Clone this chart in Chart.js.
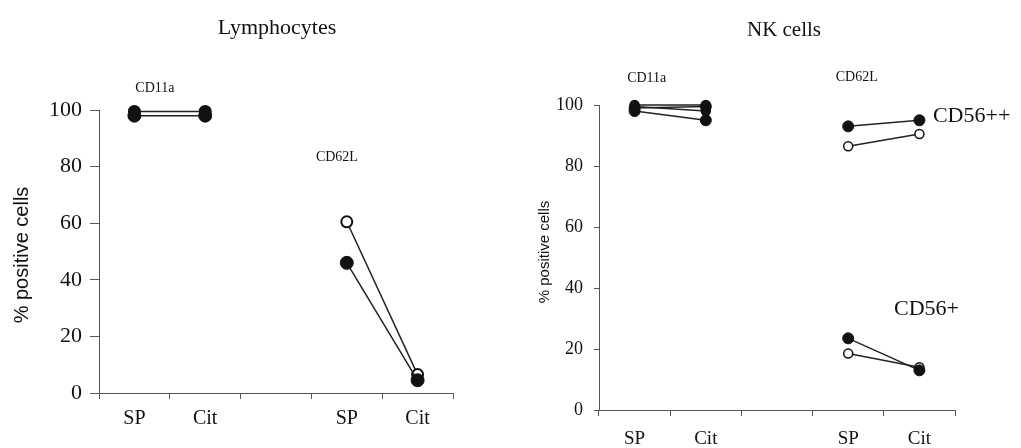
<!DOCTYPE html>
<html>
<head>
<meta charset="utf-8">
<script src="https://cdn.jsdelivr.net/npm/chart.js@4.4.0/dist/chart.umd.min.js"></script>
<style>
html, body { margin: 0; padding: 0; background: #fff; }
#wrap { position: relative; width: 1021px; height: 448px; overflow: hidden; }
#lymph { position: absolute; left: 0; top: 0; }
#nk { position: absolute; left: 500px; top: 0; }
</style>
</head>
<body>
<div id="wrap">
  <canvas id="lymph" width="490" height="448"></canvas>
  <canvas id="nk" width="521" height="448"></canvas>
</div>
<script>
// categorias: CD11a (SP, Cit), hueco, CD62L (SP, Cit)
const categorias = ['SP', 'Cit', '', 'SP', 'Cit'];
const ticksY = [0, 20, 40, 60, 80, 100];

// Lymphocytes
const linfoLleno   = [98, 98, null, 46, 4.5];
const linfoAbierto = [99.5, 99.5, null, 60.5, 6.5];

// NK cells, CD56++ y CD56+
const nkFuerteLleno   = [99, 99.5, null, 93, 95];
const nkFuerteAbierto = [100, 100, null, 86.5, 90.5];
const nkDebilLleno    = [98, 95, null, 23.5, 13];
const nkDebilAbierto  = [99.5, 98, null, 18.5, 14];

const serif = 'Liberation Serif';
const sans = 'Liberation Sans';
const tinta = '#111';

// textos sobre el canvas: titulo, titulo del eje y etiquetas junto a los puntos
const textos = {
    id: 'textos',
    afterDraw(chart, args, opts){
        const ctx = chart.ctx;
        const x = chart.scales.x;
        const y = chart.scales.y;
        const paso = x.getPixelForValue(1) - x.getPixelForValue(0);
        ctx.save();
        ctx.fillStyle = tinta;
        ctx.textBaseline = 'middle';

        ctx.textAlign = 'center';
        ctx.font = opts.titulo.font;
        ctx.fillText(opts.titulo.texto, opts.titulo.x, opts.titulo.y);

        ctx.save();
        ctx.translate(opts.ejeY.x, opts.ejeY.y);
        ctx.rotate(-Math.PI / 2);
        ctx.font = opts.ejeY.font;
        ctx.fillText('% positive cells', 0, 0);
        ctx.restore();

        opts.etiquetas.forEach(e => {
            ctx.font = e.font;
            ctx.textAlign = e.align || 'center';
            let px = x.getPixelForValue(0) + e.pos * paso;
            let py = y.getPixelForValue(e.valor);
            ctx.fillText(e.texto, px, py);
        });
        ctx.restore();
    }
};

// los puntos de CD11a se ven rellenos en las dos series
function serie(datos, abierto, radio, borde){
    return {
        data: datos,
        borderColor: '#222',
        borderWidth: 1.5,
        pointRadius: radio,
        pointBorderWidth: abierto ? borde : 1,
        pointBorderColor: '#111',
        pointBackgroundColor: abierto
            ? (c => c.dataIndex < 2 ? '#111' : '#fff')
            : '#111',
        spanGaps: false,
        clip: false
    };
}

function ejes(fy, largoY, sepY, anchoY, fx, altoX, sepX){
    return {
        x: {
            type: 'category',
            offset: true,
            afterFit: s => { s.height = altoX; },
            grid: { offset: true, drawOnChartArea: false, tickLength: 6, color: '#555' },
            border: { display: true, color: '#555', width: 1 },
            ticks: { font: fx, color: tinta, padding: sepX, autoSkip: false, maxRotation: 0 }
        },
        y: {
            min: 0,
            max: 100,
            afterBuildTicks: s => { s.ticks = ticksY.map(v => ({ value: v })); },
            afterFit: s => { s.width = anchoY; },
            grid: { drawOnChartArea: false, tickLength: largoY, color: '#555' },
            border: { display: true, color: '#555', width: 1 },
            ticks: { font: fy, color: tinta, padding: sepY }
        }
    };
}

let G1 = new Chart(document.getElementById('lymph').getContext('2d'), {
    type: 'line',
    data: {
        labels: categorias,
        datasets: [
            serie(linfoLleno, false, 6.5),
            serie(linfoAbierto, true, 5.5, 2)
        ]
    },
    options: {
        responsive: false,
        animation: false,
        devicePixelRatio: 1,
        layout: { padding: { top: 110, right: 37, left: 0, bottom: 0 } },
        scales: ejes({ family: serif, size: 22 }, 9, 8, 99, { family: serif, size: 20 }, 55, 8),
        plugins: {
            legend: { display: false },
            tooltip: { enabled: false },
            textos: {
                titulo: { texto: 'Lymphocytes', x: 277, y: 28, font: '22px "' + serif + '"' },
                ejeY: { x: 22, y: 255, font: '20px "' + sans + '"' },
                etiquetas: [
                    { texto: 'CD11a', pos: 0.29, valor: 107.8, font: '14px "' + serif + '"' },
                    { texto: 'CD62L', pos: 2.86, valor: 83.4, font: '14px "' + serif + '"' }
                ]
            }
        }
    },
    plugins: [textos]
});

let G2 = new Chart(document.getElementById('nk').getContext('2d'), {
    type: 'line',
    data: {
        labels: categorias,
        datasets: [
            serie(nkFuerteLleno, false, 5.5),
            serie(nkDebilLleno, false, 5.5),
            serie(nkFuerteAbierto, true, 4.5, 1.5),
            serie(nkDebilAbierto, true, 4.5, 1.5)
        ]
    },
    options: {
        responsive: false,
        animation: false,
        devicePixelRatio: 1,
        layout: { padding: { top: 105, right: 66, left: 0, bottom: 0 } },
        scales: ejes({ family: serif, size: 18 }, 5, 11, 99, { family: serif, size: 19 }, 38, 12),
        plugins: {
            legend: { display: false },
            tooltip: { enabled: false },
            textos: {
                titulo: { texto: 'NK cells', x: 284, y: 30, font: '21px "' + serif + '"' },
                ejeY: { x: 45, y: 252, font: '15px "' + sans + '"' },
                etiquetas: [
                    { texto: 'CD11a', pos: 0.17, valor: 108.9, font: '14px "' + serif + '"' },
                    { texto: 'CD62L', pos: 3.12, valor: 109.2, font: '14px "' + serif + '"' },
                    { texto: 'CD56++', pos: 4.19, valor: 96.4, font: '22px "' + serif + '"', align: 'left' },
                    { texto: 'CD56+', pos: 4.1, valor: 33.1, font: '22px "' + serif + '"' }
                ]
            }
        }
    },
    plugins: [textos]
});
</script>
</body>
</html>
